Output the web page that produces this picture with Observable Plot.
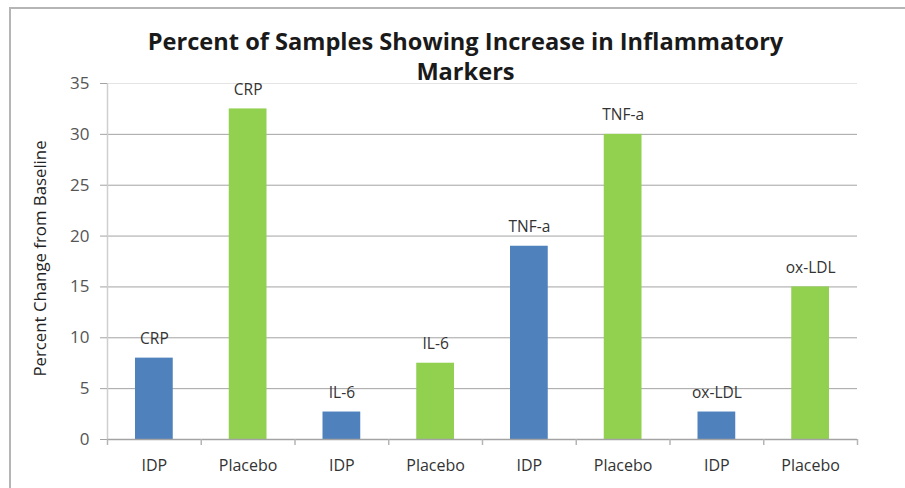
<!DOCTYPE html>
<html>
<head>
<meta charset="utf-8">
<script src="https://cdn.jsdelivr.net/npm/d3@7"></script>
<script src="https://cdn.jsdelivr.net/npm/@observablehq/plot@0.6"></script>
<style>
  html, body { margin: 0; padding: 0; background: #fff; }
  body { width: 905px; height: 488px; position: relative; overflow: hidden; font-family: "Open Sans", Lato, sans-serif; }
  #frame { position: absolute; left: 9px; top: 7px; width: 910px; height: 500px; border-left: 2px solid #b5b5b5; border-top: 2px solid #b5b5b5; pointer-events: none; }
  #title { position: relative; z-index: 2; height: 78px; box-sizing: border-box; padding-top: 26px; margin-left: 26px; width: 879px; text-align: center; font-weight: bold; font-size: 23.6px; line-height: 30px; color: #1a1a1a; }
  #chart { position: relative; }
</style>
</head>
<body>
<div id="frame"></div>
<div id="title">Percent of Samples Showing Increase in Inflammatory<br>Markers</div>
<div id="chart"></div>
<script>
const markers = ["CRP", "IL-6", "TNF-a", "ox-LDL"];
const groups = ["IDP", "Placebo"];
const idpValues = [8, 2.7, 19, 2.7];
const placeboValues = [32.5, 7.5, 30, 15];
const yTicks = [0, 5, 10, 15, 20, 25, 30, 35];
const yLabel = "Percent Change from Baseline";
const colors = { IDP: "#4f81bd", Placebo: "#92d050" };

const rows = [];
markers.forEach((m, k) => {
  rows.push({ i: rows.length, marker: m, group: groups[0], value: idpValues[k] });
  rows.push({ i: rows.length, marker: m, group: groups[1], value: placeboValues[k] });
});
const boundaries = d3.range(rows.length + 1);
const centers = rows.map(d => d.i + 0.5);

const plot = Plot.plot({
  width: 905,
  height: 410,
  marginLeft: 107,
  marginRight: 48,
  marginTop: 5,
  marginBottom: 49,
  style: { fontFamily: "'Open Sans', Lato, sans-serif", background: "transparent", overflow: "visible" },
  x: { type: "linear", domain: [0, rows.length], axis: null, label: null },
  y: { type: "linear", domain: [0, 35], axis: null, label: null },
  marks: [
    Plot.ruleY(yTicks.filter(t => t > 0 && t < 35), { stroke: "#a3a3a3", strokeWidth: 1 }),
    Plot.ruleY([35], { stroke: "#e4e4e4", strokeWidth: 1 }),
    Plot.ruleX([0], { y1: 0, y2: 35, stroke: "#cfcfcf", strokeWidth: 1.5 }),
    Plot.axisY({ ticks: yTicks, tickSize: 7, tickPadding: 11, fontSize: 17, color: "#555", stroke: "#a3a3a3", tickFormat: d => d, label: null }),
    Plot.rectY(rows, { x1: "i", x2: d => d.i + 1, y1: 0, y2: "value", fill: d => colors[d.group], insetLeft: 28, insetRight: 28 }),
    Plot.ruleY([0], { stroke: "#a3a3a3", strokeWidth: 1.5 }),
    Plot.axisX({ ticks: boundaries, tickSize: 6, tickFormat: () => "", stroke: "#b5b5b5", strokeWidth: 1.5, label: null }),
    Plot.text(rows, { x: d => d.i + 0.5, y: "value", text: "marker", dy: -19, fontSize: 15.5, fill: "#333" }),
    Plot.axisX({ ticks: centers, tickSize: 0, tickPadding: 20, fontSize: 16, color: "#333", tickFormat: d => rows[Math.floor(d)].group, label: null }),
    Plot.text([yLabel], { frameAnchor: "left", dx: -67, dy: -3, rotate: -90, textAnchor: "middle", fontSize: 16.8, fill: "#222" })
  ]
});
document.getElementById("chart").appendChild(plot);
</script>
</body>
</html>
